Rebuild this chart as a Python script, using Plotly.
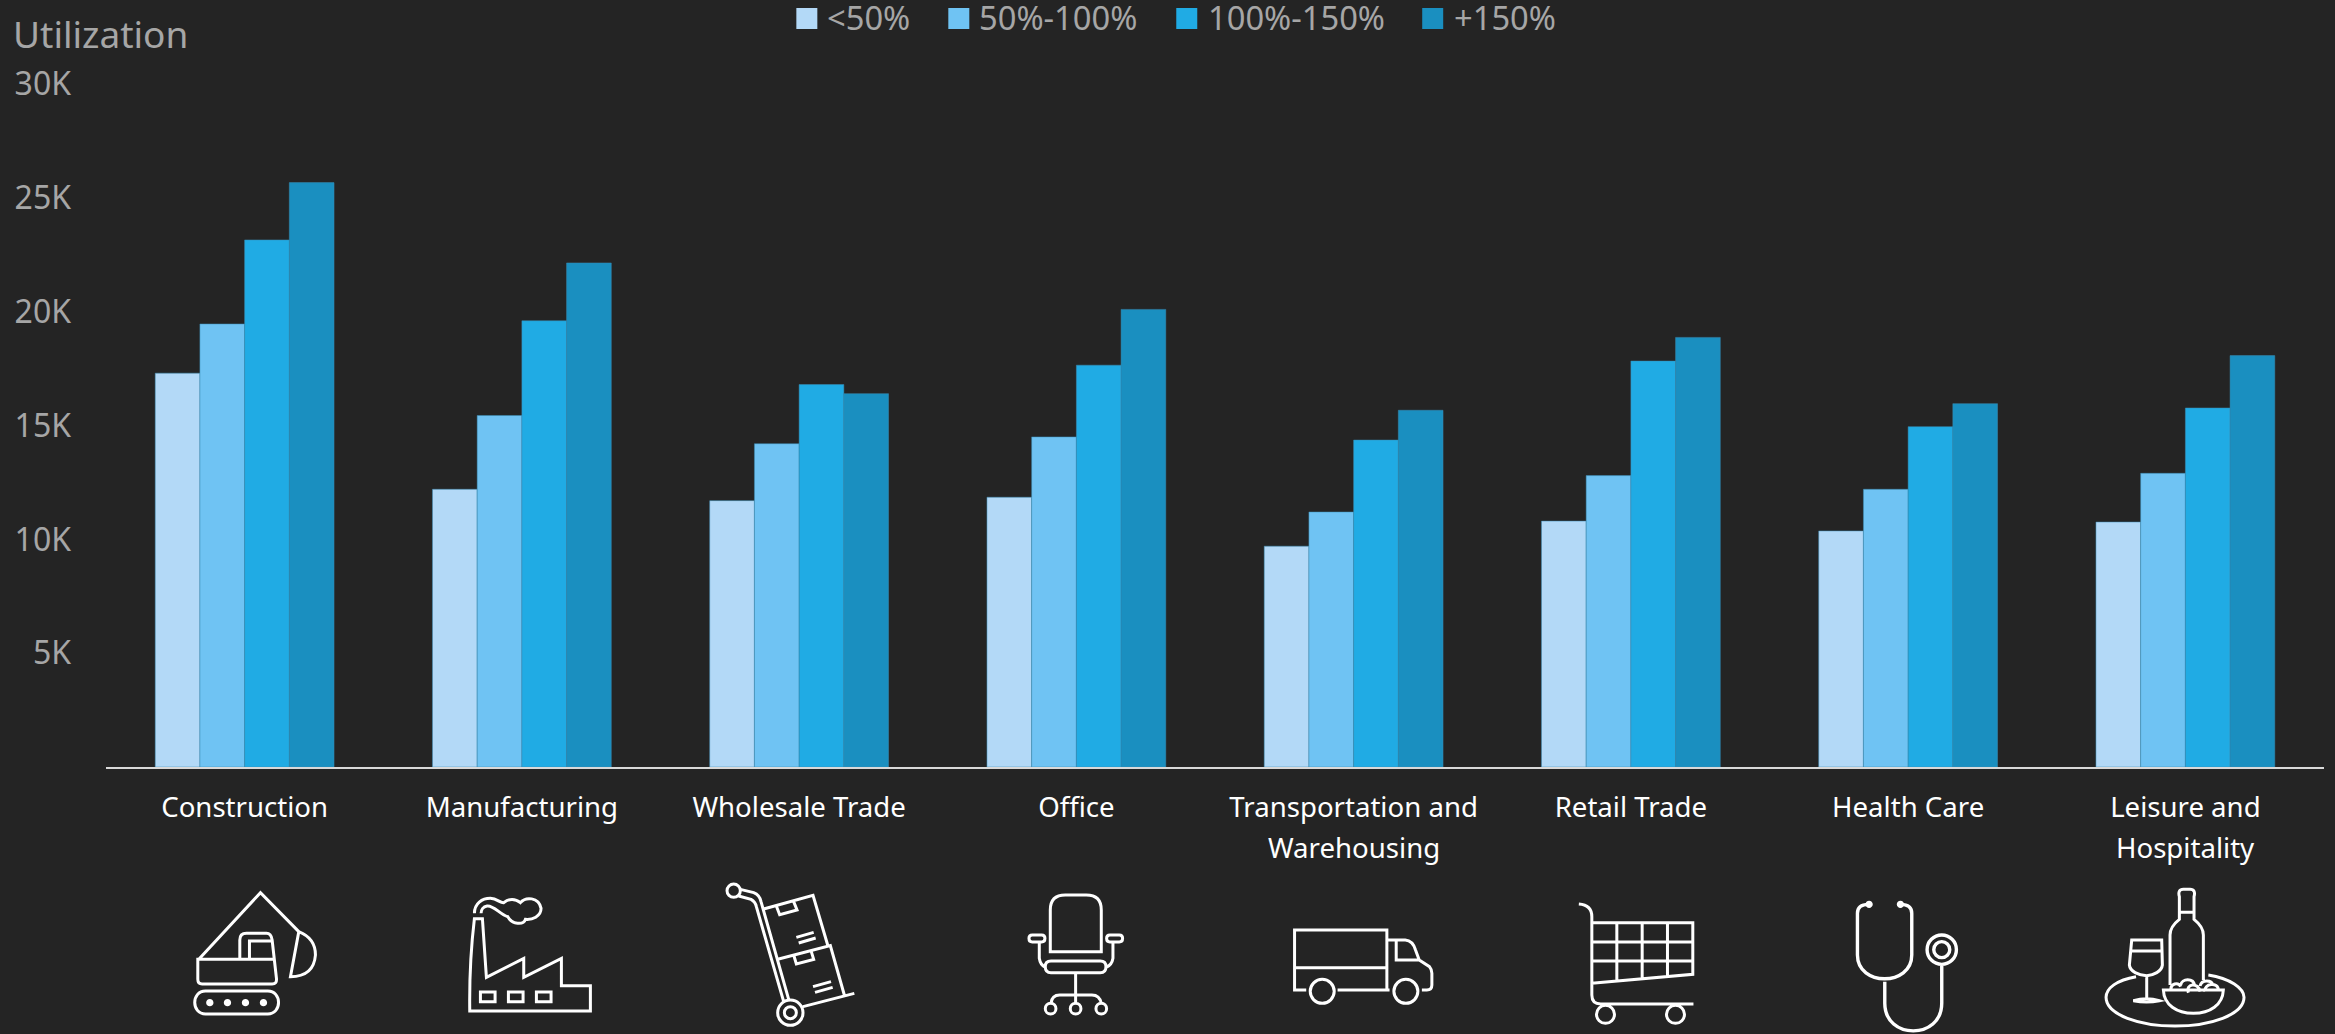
import re
import plotly.graph_objects as go

categories = ["Construction", "Manufacturing", "Wholesale Trade", "Office",
              "Transportation and Warehousing", "Retail Trade", "Health Care",
              "Leisure and Hospitality"]
first_lines = ["Construction", "Manufacturing", "Wholesale Trade", "Office",
               "Transportation and", "Retail Trade", "Health Care", "Leisure and"]
second_lines = ["", "", "", "", "Warehousing", "", "", "Hospitality"]

under_50 = [17300, 12200, 11700, 11850, 9700, 10800, 10370, 10760]
from_50_100 = [19460, 15440, 14200, 14500, 11200, 12800, 12200, 12900]
from_100_150 = [23150, 19600, 16800, 17650, 14360, 17830, 14950, 15770]
over_150 = [25670, 22140, 16400, 20100, 15670, 18870, 15960, 18070]

series_names = ["<50%", "50%-100%", "100%-150%", "+150%"]
series_values = [under_50, from_50_100, from_100_150, over_150]
colors = ["#B3D9F7", "#6FC3F3", "#20ABE4", "#1A8FC0"]
tick_vals = [5000, 10000, 15000, 20000, 25000, 30000]
tick_text = ["5K", "10K", "15K", "20K", "25K", "30K"]

W, H = 2335, 1034
L, R, T, B = 105.5, 2324.0, 84.0, 767.0
BG = "#242424"
GREY = "#A6A6A6"
FONT = "Noto Sans, Open Sans, sans-serif"


def px(x):
    return (x - L) / (R - L)


def py(y):
    return (B - y) / (B - T)


def ell(cx, cy, rx, ry=None):
    ry = rx if ry is None else ry
    k = 0.5523
    return (f"M {cx-rx},{cy} C {cx-rx},{cy-k*ry} {cx-k*rx},{cy-ry} {cx},{cy-ry} "
            f"C {cx+k*rx},{cy-ry} {cx+rx},{cy-k*ry} {cx+rx},{cy} "
            f"C {cx+rx},{cy+k*ry} {cx+k*rx},{cy+ry} {cx},{cy+ry} "
            f"C {cx-k*rx},{cy+ry} {cx-rx},{cy+k*ry} {cx-rx},{cy} Z ")


def rect(x0, y0, x1, y1):
    return f"M {x0},{y0} L {x1},{y0} L {x1},{y1} L {x0},{y1} Z "


def convert(path, ox, oy):
    def sub(m):
        x = ox + float(m.group(1)) / 3
        y = oy + float(m.group(2)) / 3
        return f"{px(x):.5f},{py(y):.5f}"
    return re.sub(r"(-?[\d.]+),(-?[\d.]+)", sub, path)


icon_shapes = []


def icon(ox, oy, path, width=3, filled=""):
    icon_shapes.append(dict(type="path", xref="paper", yref="paper",
                            path=convert(path, ox, oy),
                            line=dict(color="#FFFFFF", width=width),
                            fillcolor="rgba(0,0,0,0)", layer="above"))
    if filled:
        icon_shapes.append(dict(type="path", xref="paper", yref="paper",
                                path=convert(filled, ox, oy),
                                line=dict(width=0),
                                fillcolor="#FFFFFF", layer="above"))


# Excavator
icon(180, 880,
     "M 55,238 L 240,38 L 355,155 "
     "M 178,238 L 178,180 Q 178,160 198,160 L 258,160 Q 272,160 275,180 L 288,295 "
     "Q 290,312 275,312 L 65,312 Q 52,312 52,298 L 52,238 L 285,238 "
     "M 207,238 L 207,183 L 275,183 "
     "M 355,155 Q 405,175 405,225 Q 400,290 330,290 Z "
     "M 75,333 L 262,333 C 305,333 305,402 262,402 L 75,402 C 32,402 32,333 75,333 Z ",
     filled=ell(88, 368, 11) + ell(141, 368, 11) + ell(195, 368, 11) + ell(249, 368, 11))
# Factory
icon(450, 880,
     "M 72,116 L 96,116 L 108,292 L 220,235 L 220,292 L 333,235 L 333,317 L 420,317 "
     "L 420,393 L 58,393 Q 56,250 72,116 Z "
     + rect(90, 336, 134, 365) + rect(174, 336, 218, 365) + rect(258, 336, 302, 365) +
     "M 72,100 C 72,70 95,55 120,55 C 140,55 150,70 160,68 C 175,55 195,55 210,68 "
     "C 225,50 265,50 272,85 C 272,110 245,120 225,118 C 220,135 185,135 172,110 "
     "C 150,105 130,75 110,78 C 98,80 92,90 92,100 ")
# Hand truck
icon(710, 880,
     ell(240, 398, 38) + ell(240, 398, 18) + ell(70, 32, 20) +
     "M 90,28 L 130,38 Q 148,45 152,65 L 235,358 "
     "M 85,48 L 122,58 Q 135,65 138,80 L 220,365 "
     "M 278,380 L 432,340 "
     "M 160,87 L 308,46 L 352,195 "
     "M 205,237 L 360,197 L 402,345 "
     "M 198,78 L 208,104 L 260,90 L 250,65 "
     "M 250,225 L 258,252 L 310,238 L 302,212 "
     "M 258,172 L 310,157 M 265,189 L 316,174 "
     "M 308,320 L 362,305 M 314,337 L 367,322 ")
# Chair
icon(1010, 880,
     "M 120,215 L 120,90 Q 120,45 165,45 L 228,45 Q 273,45 273,90 L 273,215 Z "
     "M 122,243 L 270,243 Q 287,243 287,260 Q 287,278 270,278 L 122,278 "
     "Q 105,278 105,260 Q 105,243 122,243 Z "
     "M 66,165 L 94,165 Q 104,165 104,175 Q 104,186 94,186 L 66,186 Q 56,186 56,175 Q 56,165 66,165 Z "
     "M 299,165 L 327,165 Q 337,165 337,175 Q 337,186 327,186 L 299,186 Q 289,186 289,175 Q 289,165 299,165 Z "
     "M 87,186 L 87,235 Q 90,255 105,262 M 308,186 L 308,235 Q 305,255 288,262 "
     "M 196,278 L 196,370 "
     "M 122,370 Q 125,345 148,345 L 245,345 Q 268,345 273,370 "
     + ell(121, 386, 16) + ell(196, 386, 16) + ell(273, 386, 16))
# Truck
icon(1280, 880,
     "M 78,330 L 43,330 L 43,150 L 320,150 L 320,328 "
     "M 43,263 L 320,263 M 172,330 L 328,330 "
     + ell(126, 334, 36) + ell(377, 334, 36) +
     "M 320,180 L 375,180 Q 398,182 406,210 L 417,240 L 448,260 Q 455,268 455,280 "
     "L 455,315 Q 455,330 440,330 L 425,330 "
     "M 348,180 L 348,240 L 417,240 ")
# Cart
icon(1570, 880,
     "M 26,72 Q 65,75 65,110 L 65,345 Q 65,372 92,372 L 370,372 "
     "M 65,128 L 368,128 L 368,283 L 65,310 "
     "M 65,186 L 368,186 M 65,243 L 368,243 "
     "M 140,128 L 140,303 M 216,128 L 216,296 M 292,128 L 292,289 "
     + ell(106, 403, 27) + ell(316, 403, 27))
# Stethoscope
icon(1840, 880,
     "M 85,73 Q 52,73 52,100 L 52,225 C 52,320 215,320 215,225 L 215,100 Q 215,73 182,73 "
     "M 134,305 L 134,370 C 134,480 305,480 305,370 L 305,250 "
     + ell(305, 209, 44) + ell(305, 209, 24),
     width=3.4, filled=ell(87, 73, 11) + ell(181, 73, 11))
# Bottle, glass, bowl and tray
icon(2090, 880,
     "M 138,290 C 80,300 48,325 48,352 C 48,405 150,438 255,438 C 360,438 462,405 462,352 "
     "C 462,325 420,295 355,285 "
     "M 125,180 L 215,180 L 217,255 C 215,275 190,285 170,287 C 145,285 120,275 118,255 Z "
     "M 125,213 L 215,213 M 170,287 L 170,355 "
     "M 130,362 Q 170,350 208,362 Q 170,370 130,362 Z "
     "M 240,315 L 240,165 Q 240,140 268,118 L 268,50 Q 262,28 280,28 L 300,28 Q 318,28 312,50 "
     "L 312,118 Q 340,140 340,165 L 340,300 M 268,97 L 312,97 "
     "M 220,330 L 400,330 C 398,375 360,400 310,400 C 260,400 222,375 220,330 Z "
     "M 243,330 C 240,310 265,305 272,320 M 272,315 C 275,295 310,292 315,318 "
     "M 295,338 C 285,310 325,305 330,335 M 330,318 C 335,298 365,300 368,315 "
     "M 345,335 C 340,310 385,305 385,330 ")

fig = go.Figure()
for name, vals, col in zip(series_names, series_values, colors):
    fig.add_trace(go.Bar(name=name, x=categories, y=vals, showlegend=False,
                         marker=dict(color=col, line=dict(color="#3A8DB5", width=0.5))))

annotations = [dict(text="Utilization", xref="paper", yref="paper", x=px(10), y=py(33),
                    xanchor="left", yanchor="middle", showarrow=False,
                    font=dict(size=37, color=GREY, family=FONT))]
for cat, line in zip(categories, second_lines):
    if line:
        annotations.append(dict(text=line, xref="x", yref="paper", x=cat, y=py(847),
                                xanchor="center", yanchor="middle", showarrow=False,
                                font=dict(size=27.6, color="#FFFFFF", family=FONT)))

legend_swatch_x = [796, 948, 1176, 1422]
legend_text_x = [825, 977, 1206, 1452]
legend_shapes = []
for name, col, sx, tx in zip(series_names, colors, legend_swatch_x, legend_text_x):
    legend_shapes.append(dict(type="rect", xref="paper", yref="paper",
                              x0=px(sx), x1=px(sx + 21), y0=py(29), y1=py(8),
                              fillcolor=col, line=dict(width=0)))
    annotations.append(dict(text=name, xref="paper", yref="paper", x=px(tx), y=py(18),
                            xanchor="left", yanchor="middle", showarrow=False,
                            font=dict(size=32.7, color=GREY, family=FONT)))

fig.update_layout(
    width=W, height=H, autosize=False,
    margin=dict(l=L, r=W - R, t=T, b=H - B, pad=0),
    paper_bgcolor=BG, plot_bgcolor=BG,
    barmode="group", bargap=0.355, bargroupgap=0,
    font=dict(family=FONT),
    shapes=legend_shapes + icon_shapes,
    annotations=annotations,
    xaxis=dict(type="category", categoryorder="array", categoryarray=categories,
               tickmode="array", tickvals=categories, ticktext=first_lines,
               tickangle=0, showgrid=False, zeroline=False,
               showline=True, linecolor="#D9D9D9", linewidth=2,
               ticks="outside", ticklen=15, tickcolor="rgba(0,0,0,0)",
               tickfont=dict(size=27.6, color="#FFFFFF", family=FONT)),
    yaxis=dict(range=[0, 30000], tickmode="array", tickvals=tick_vals, ticktext=tick_text,
               showgrid=False, zeroline=False, showline=False, ticks="",
               ticklabelstandoff=34,
               tickfont=dict(size=32, color=GREY, family=FONT)),
)
fig.write_html("out.html", config=dict(displayModeBar=False),
               post_script="document.body.style.margin='0';document.body.style.background='#242424';")
